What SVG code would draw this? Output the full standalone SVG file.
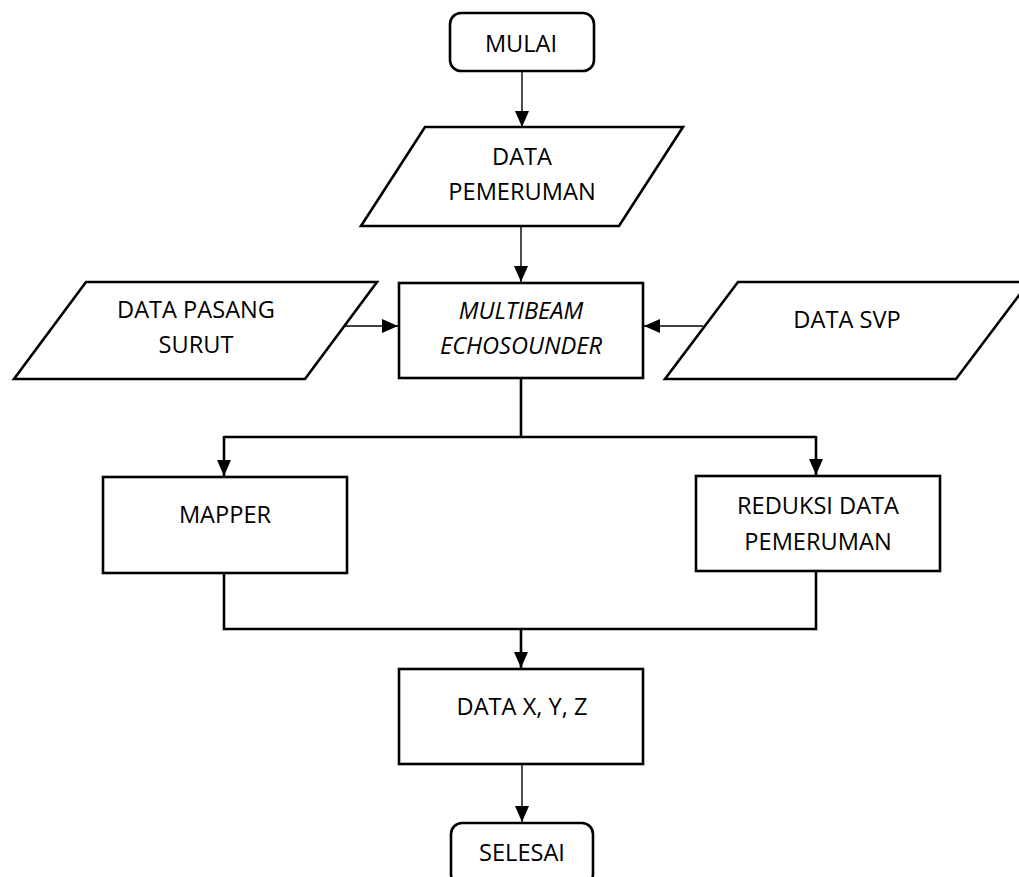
<svg xmlns="http://www.w3.org/2000/svg" width="1019" height="877" viewBox="0 0 1019 877">
<style>
.s{fill:#fff;stroke:#000;stroke-width:2.6}
.t{font-family:"Open Sans","Liberation Sans",sans-serif;font-size:23.6px;fill:#000;text-anchor:middle}
.i{font-style:italic}
.th{fill:none;stroke:#000;stroke-width:1.4}
.tk{fill:none;stroke:#000;stroke-width:2.6}
</style>
<defs>
<marker id="ah" markerUnits="userSpaceOnUse" markerWidth="16" markerHeight="16" viewBox="0 0 16 16" refX="16" refY="8" orient="auto">
<path d="M0,1 L16,8 L0,15 Z" fill="#000"/>
</marker>
</defs>
<rect width="1019" height="877" fill="#fff"/>
<g id="connectors">
<line class="th" x1="522" y1="71" x2="522" y2="127" marker-end="url(#ah)"/>
<line class="th" x1="521" y1="226" x2="521" y2="282" marker-end="url(#ah)"/>
<line class="th" x1="344" y1="326" x2="398" y2="326" marker-end="url(#ah)"/>
<line class="th" x1="703" y1="326" x2="644" y2="326" marker-end="url(#ah)"/>
<path class="tk" d="M521,379 V437"/>
<path class="tk" d="M224,437 H816"/>
<line class="tk" x1="224" y1="436" x2="224" y2="476" marker-end="url(#ah)"/>
<line class="tk" x1="816" y1="436" x2="816" y2="475" marker-end="url(#ah)"/>
<path class="tk" d="M224,573 V629 H816 V571"/>
<line class="tk" x1="521" y1="628" x2="521" y2="668" marker-end="url(#ah)"/>
<line class="th" x1="522" y1="764" x2="522" y2="822" marker-end="url(#ah)"/>
</g>
<g id="mulai">
<rect class="s" x="450" y="13" width="144" height="58" rx="11"/>
<text class="t" x="521" y="52">MULAI</text>
</g>
<g id="data-pemeruman">
<polygon class="s" points="425,127 683,127 619,226 361,226"/>
<text class="t" x="522" y="165">DATA</text>
<text class="t" x="522" y="200">PEMERUMAN</text>
</g>
<g id="data-pasang-surut">
<polygon class="s" points="86,282 377,282 305,379 14,379"/>
<text class="t" x="196" y="318">DATA PASANG</text>
<text class="t" x="196" y="353">SURUT</text>
</g>
<g id="multibeam">
<rect class="s" x="399" y="283" width="244" height="95"/>
<text class="t i" x="521" y="319">MULTIBEAM</text>
<text class="t i" x="521" y="354">ECHOSOUNDER</text>
</g>
<g id="data-svp">
<polygon class="s" points="738,282 1029,282 956,379 665,379"/>
<text class="t" x="847" y="328">DATA SVP</text>
</g>
<g id="mapper">
<rect class="s" x="103" y="477" width="244" height="96"/>
<text class="t" x="225" y="523">MAPPER</text>
</g>
<g id="reduksi">
<rect class="s" x="696" y="476" width="244" height="95"/>
<text class="t" x="818" y="514">REDUKSI DATA</text>
<text class="t" x="818" y="550">PEMERUMAN</text>
</g>
<g id="data-xyz">
<rect class="s" x="399" y="669" width="244" height="95"/>
<text class="t" x="522" y="715">DATA X, Y, Z</text>
</g>
<g id="selesai">
<rect class="s" x="451" y="823" width="142" height="62" rx="11"/>
<text class="t" x="522" y="861">SELESAI</text>
</g>
</svg>
